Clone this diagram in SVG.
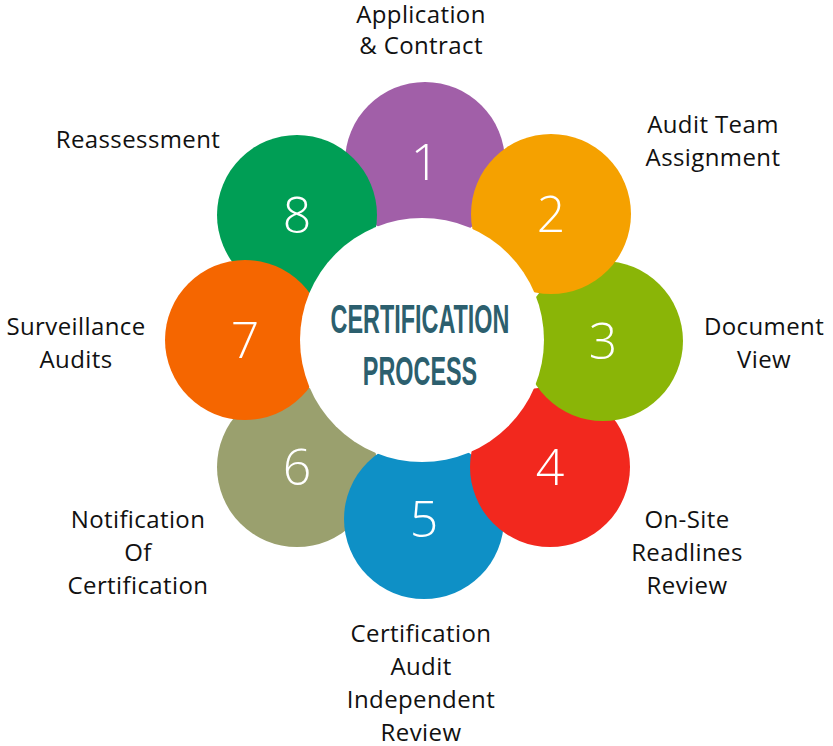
<svg xmlns="http://www.w3.org/2000/svg" width="833" height="746" viewBox="0 0 833 746">
<style>
.lbl{font-family:"Open Sans","Noto Sans",sans-serif;font-size:24px;letter-spacing:0.4px;fill:#111;text-anchor:middle}
.num{font-family:"Open Sans","Noto Sans",sans-serif;font-weight:300;font-size:50px;fill:#fff;text-anchor:middle}
.title{font-family:"Liberation Sans",Arial,sans-serif;font-weight:bold;font-size:40px;fill:#2C5F6E;text-anchor:middle}
</style>
<rect width="833" height="746" fill="#fff"/>
<g id="node1"><circle cx="425" cy="162" r="80" fill="#A15FA8"/><text class="num" x="425" y="180">1</text></g>
<g id="node6"><circle cx="297" cy="467" r="80" fill="#9AA06E"/><text class="num" x="297" y="485">6</text></g>
<g id="node5"><circle cx="424" cy="519" r="80" fill="#0E90C6"/><text class="num" x="424" y="537">5</text></g>
<g id="node4"><circle cx="550" cy="467" r="80" fill="#F2281E"/><text class="num" x="550" y="485">4</text></g>
<g id="node3"><circle cx="603" cy="341" r="80" fill="#8AB507"/><text class="num" x="603" y="359">3</text></g>
<g id="node2"><circle cx="551" cy="214" r="80" fill="#F5A100"/><text class="num" x="551" y="232">2</text></g>
<g id="node8"><circle cx="297" cy="215" r="80" fill="#009E55"/><text class="num" x="297" y="233">8</text></g>
<g id="node7"><circle cx="245" cy="340" r="80" fill="#F56600"/><text class="num" x="245" y="358">7</text></g>
<g id="center"><circle cx="422" cy="340" r="122" fill="#fff"/>
<text class="title" transform="translate(420,333) scale(0.585,1)" x="0" y="0">CERTIFICATION</text>
<text class="title" transform="translate(420,385) scale(0.585,1)" x="0" y="0">PROCESS</text></g>
<g id="labels">
<text class="lbl" x="421" y="23">Application</text>
<text class="lbl" x="421" y="54">&amp; Contract</text>
<text class="lbl" x="713" y="133">Audit Team</text>
<text class="lbl" x="713" y="166">Assignment</text>
<text class="lbl" x="764" y="335">Document</text>
<text class="lbl" x="764" y="368">View</text>
<text class="lbl" x="687" y="528">On-Site</text>
<text class="lbl" x="687" y="561">Readlines</text>
<text class="lbl" x="687" y="594">Review</text>
<text class="lbl" x="421" y="642">Certification</text>
<text class="lbl" x="421" y="675">Audit</text>
<text class="lbl" x="421" y="708">Independent</text>
<text class="lbl" x="421" y="741">Review</text>
<text class="lbl" x="138" y="528">Notification</text>
<text class="lbl" x="138" y="561">Of</text>
<text class="lbl" x="138" y="594">Certification</text>
<text class="lbl" x="76" y="335">Surveillance</text>
<text class="lbl" x="76" y="368">Audits</text>
<text class="lbl" x="138" y="148">Reassessment</text>
</g>
<g id="connectors"></g>
</svg>
